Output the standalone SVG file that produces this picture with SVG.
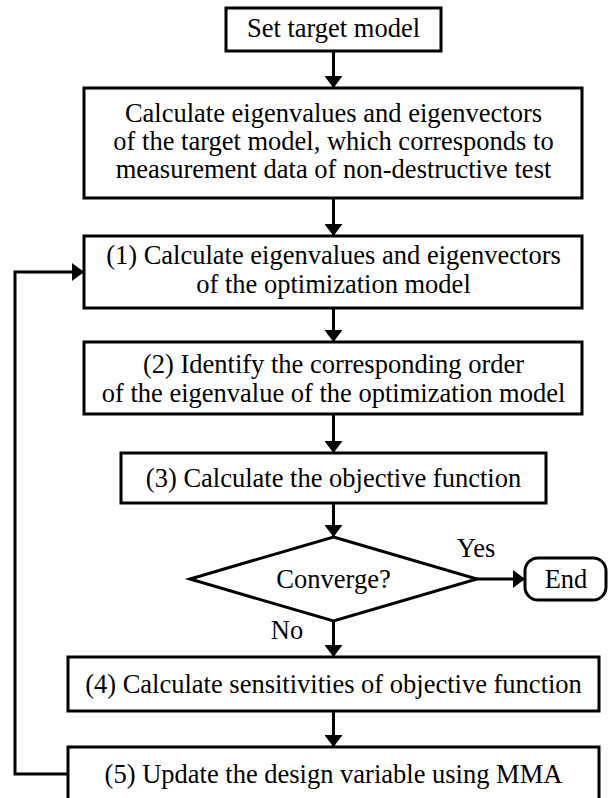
<svg xmlns="http://www.w3.org/2000/svg" width="608" height="798" viewBox="0 0 608 798">
<style>
.box{fill:#fff;stroke:#000;stroke-width:3}
.t{font-family:'Liberation Serif','Tinos','DejaVu Serif',serif;font-size:26.5px;fill:#000;text-anchor:middle}
.c{fill:none;stroke:#000;stroke-width:3}
</style>
<defs>
<marker id="ah" viewBox="0 0 12 18" markerWidth="12" markerHeight="18" refX="12" refY="9" orient="auto" markerUnits="userSpaceOnUse">
<path d="M0,0 L12,9 L0,18 Z" fill="#000"/>
</marker>
</defs>
<rect width="608" height="798" fill="#fff"/>
<g id="connectors">
<line class="c" x1="333.5" y1="51" x2="333.5" y2="88" marker-end="url(#ah)"/>
<line class="c" x1="333.5" y1="198" x2="333.5" y2="236" marker-end="url(#ah)"/>
<line class="c" x1="333.5" y1="308" x2="333.5" y2="342" marker-end="url(#ah)"/>
<line class="c" x1="333.5" y1="414" x2="333.5" y2="453" marker-end="url(#ah)"/>
<line class="c" x1="333.5" y1="503" x2="333.5" y2="537" marker-end="url(#ah)"/>
<line class="c" x1="333.5" y1="621" x2="333.5" y2="657" marker-end="url(#ah)"/>
<line class="c" x1="333.5" y1="711" x2="333.5" y2="747" marker-end="url(#ah)"/>
<line class="c" x1="477" y1="579" x2="525" y2="579" marker-end="url(#ah)"/>
<polyline class="c" points="68,774 15,774 15,272 84,272" marker-end="url(#ah)"/>
<text class="t" x="476" y="557" font-family="Liberation Serif, serif">Yes</text>
<text class="t" x="287" y="639" font-family="Liberation Serif, serif">No</text>
</g>
<g id="set-target">
<rect class="box" x="226" y="8" width="215" height="43"/>
<text class="t" x="333.5" y="37">Set target model</text>
</g>
<g id="calc-target">
<rect class="box" x="84" y="88" width="498" height="110"/>
<text class="t" x="333.5" y="122">Calculate eigenvalues and eigenvectors</text>
<text class="t" x="333.5" y="150">of the target model, which corresponds to</text>
<text class="t" x="333.5" y="178">measurement data of non-destructive test</text>
</g>
<g id="step1">
<rect class="box" x="84" y="236" width="498" height="72"/>
<text class="t" x="333.5" y="264">(1) Calculate eigenvalues and eigenvectors</text>
<text class="t" x="333.5" y="293">of the optimization model</text>
</g>
<g id="step2">
<rect class="box" x="84" y="342" width="498" height="72"/>
<text class="t" x="333.5" y="373">(2) Identify the corresponding order</text>
<text class="t" x="333.5" y="402">of the eigenvalue of the optimization model</text>
</g>
<g id="step3">
<rect class="box" x="121" y="453" width="425" height="50"/>
<text class="t" x="333.5" y="487">(3) Calculate the objective function</text>
</g>
<g id="converge">
<polygon class="box" points="333.5,537 477,579 333.5,621 190,579"/>
<text class="t" x="333.5" y="588">Converge?</text>
</g>
<g id="end">
<rect class="box" x="525" y="558" width="81" height="42" rx="13" ry="13"/>
<text class="t" x="566" y="588">End</text>
</g>
<g id="step4">
<rect class="box" x="68" y="657" width="531" height="54"/>
<text class="t" x="333.5" y="693">(4) Calculate sensitivities of objective function</text>
</g>
<g id="step5">
<rect class="box" x="68" y="747" width="531" height="56"/>
<text class="t" x="333.5" y="783">(5) Update the design variable using MMA</text>
</g>
</svg>
